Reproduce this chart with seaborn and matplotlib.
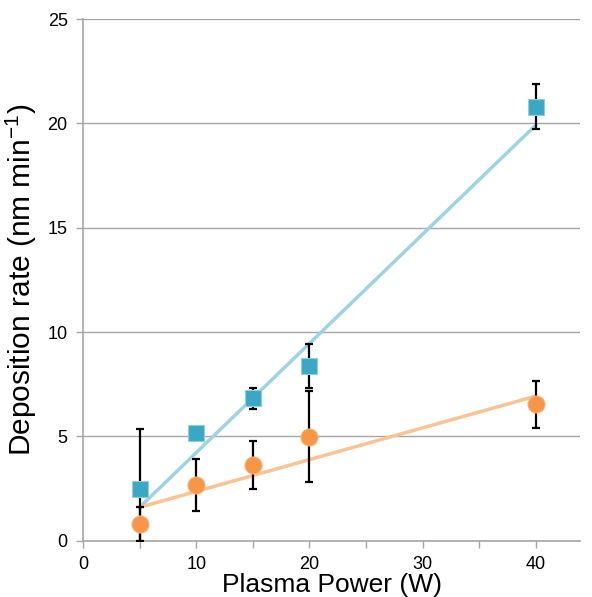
import numpy as np
import pandas as pd
import matplotlib
matplotlib.use("Agg")
import matplotlib.pyplot as plt
import seaborn as sns
from matplotlib.ticker import MultipleLocator

power = [5, 10, 15, 20, 40]
rate_blue = [2.46, 5.14, 6.82, 8.37, 20.8]
err_blue = [2.9, 0.3, 0.5, 1.05, 1.08]
rate_orange = [0.8, 2.67, 3.63, 4.98, 6.53]
err_orange = [0.8, 1.26, 1.16, 2.17, 1.12]

trend_x = [5, 40]
trend_blue = [1.6, 19.92]
trend_orange = [1.6, 6.93]

x_ticks = [0, 10, 20, 30, 40]
y_ticks = [0, 5, 10, 15, 20, 25]

sns.set_theme(style="white")
plt.rcParams['font.family'] = ['Liberation Sans', 'DejaVu Sans']
plt.rcParams['mathtext.fontset'] = 'custom'
plt.rcParams['mathtext.rm'] = 'Liberation Sans'
plt.rcParams['mathtext.it'] = 'Liberation Sans'

blue_mk = '#3aa8c4'
blue_ln = '#9ed3e1'
orange_mk = '#f79646'
orange_ln = '#f9c393'
grid_c = '#a6a6a6'

fig = plt.figure(figsize=(5.92, 5.97), dpi=100)
ax = fig.add_axes([83/592, 56.3/597, (580-83)/592, (540.7-19)/597])

df = pd.DataFrame({'power': power, 'blue': rate_blue, 'orange': rate_orange})
tl = pd.DataFrame({'x': trend_x, 'blue': trend_blue, 'orange': trend_orange})

sns.lineplot(data=tl, x='x', y='blue', ax=ax, color=blue_ln, lw=2.5, zorder=2)
sns.lineplot(data=tl, x='x', y='orange', ax=ax, color=orange_ln, lw=2.5, zorder=2)

ax.errorbar(power, rate_blue, yerr=err_blue, fmt='none', ecolor='black',
            elinewidth=1.6, capsize=3, capthick=1.6, zorder=3)
ax.errorbar(power, rate_orange, yerr=err_orange, fmt='none', ecolor='black',
            elinewidth=1.6, capsize=3, capthick=1.6, zorder=3)

sns.scatterplot(data=df, x='power', y='blue', ax=ax, marker='s', s=125,
                color=blue_mk, edgecolor='#8fd0e0', linewidth=0.8, zorder=4)
sns.scatterplot(data=df, x='power', y='orange', ax=ax, marker='o', s=150,
                color=orange_mk, edgecolor='#f9b27a', linewidth=0.8, zorder=4)

ax.set_xlim(0, 43.9)
ax.set_ylim(0, 25)
ax.xaxis.set_major_locator(MultipleLocator(10))
ax.xaxis.set_minor_locator(MultipleLocator(5))
ax.set_yticks(y_ticks)
ax.set_xticks(x_ticks)

ax.yaxis.grid(True, color=grid_c, lw=1)
ax.xaxis.grid(False)
ax.set_axisbelow(True)
for s in ['top', 'right']:
    ax.spines[s].set_visible(False)
for s in ['left', 'bottom']:
    ax.spines[s].set_color(grid_c)
    ax.spines[s].set_linewidth(1.2)

ax.tick_params(axis='x', which='both', direction='out', length=5, width=1,
               color=grid_c, labelsize=13, pad=6, bottom=True, labelcolor='black')
ax.tick_params(axis='y', which='major', direction='out', length=5, width=1,
               color=grid_c, labelsize=13, pad=6, left=True, labelcolor='black')

ax.set_xlabel('Plasma Power (W)', fontsize=19, labelpad=0, color='black')
ax.set_ylabel(r'Deposition rate (nm min$^{-1}$)', fontsize=21.5, labelpad=6,
              color='black')

fig.savefig('out.png', dpi=100)
